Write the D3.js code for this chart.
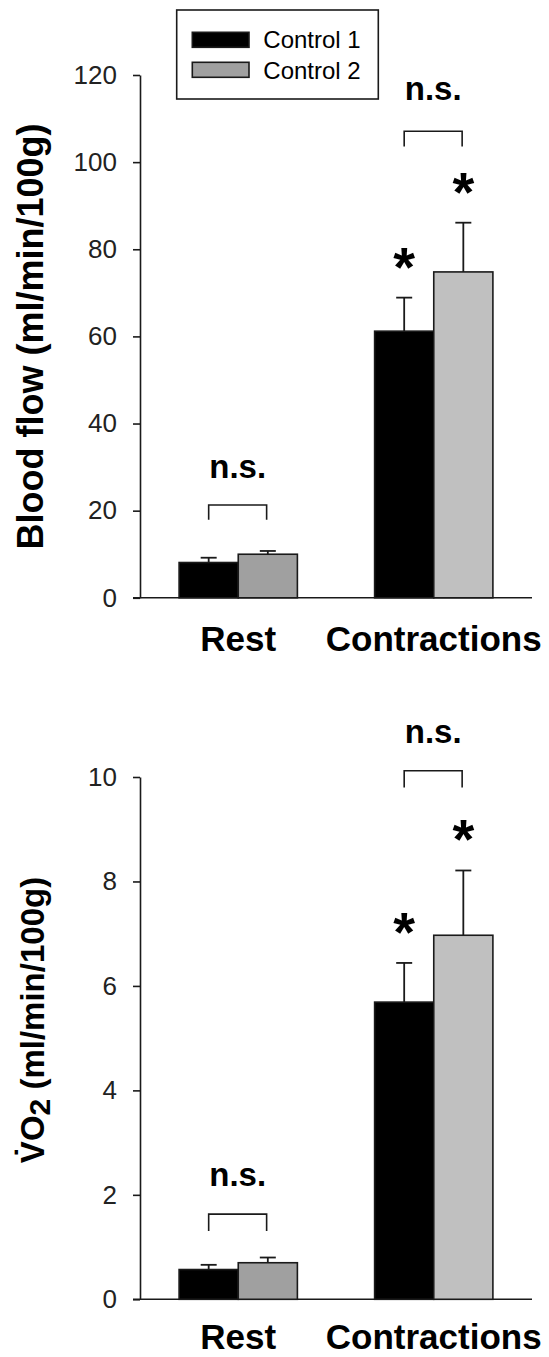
<!DOCTYPE html>
<html>
<head>
<meta charset="utf-8">
<script src="https://cdn.jsdelivr.net/npm/d3@7"></script>
<style>
  html, body { margin: 0; padding: 0; background: #fff; }
  svg { display: block; font-family: "Liberation Sans", Arial, sans-serif; }
</style>
</head>
<body>
<svg id="fig" width="549" height="1357"></svg>
<script>
// Groups and series
const categories = ["Rest", "Contractions"];
const series = ["Control 1", "Control 2"];

// Blood flow (ml/min/100g): means and SE
const flowControl1 = [8.1, 61.2];
const flowControl1SE = [1.1, 7.7];
const flowControl2 = [10.0, 74.8];
const flowControl2SE = [0.75, 11.3];
const flowTicks = [0, 20, 40, 60, 80, 100, 120];

// VO2 (ml/min/100g): means and SE
const vo2Control1 = [0.57, 5.69];
const vo2Control1SE = [0.09, 0.75];
const vo2Control2 = [0.70, 6.97];
const vo2Control2SE = [0.10, 1.24];
const vo2Ticks = [0, 2, 4, 6, 8, 10];

// Significance vs rest (per series, per group)
const starsControl1 = [false, true];
const starsControl2 = [false, true];
const compareLabel = "n.s.";

// Bracket heights (data units) for the between-control comparison
const flowBrackets = [
  { top: 21.3, leg: 17.9, text: 27.6 },
  { top: 107.1, leg: 103.6, text: 114.3 }
];
const vo2Brackets = [
  { top: 1.63, leg: 1.31, text: 2.17 },
  { top: 10.12, leg: 9.80, text: 10.66 }
];

const svg = d3.select("#fig");
const ink = "#1a1a1a";
const axisX0 = 140, axisX1 = 532;

const x = d3.scaleBand().domain(categories).range([axisX0, axisX1])
  .paddingInner(0.395).paddingOuter(0.2);
const xs = d3.scaleBand().domain(series).range([0, x.bandwidth()]);

function fillFor(s, c) {
  if (s === series[0]) return "#000";
  return c === "Rest" ? "#a0a0a0" : "#c0c0c0";
}

function panel(cfg) {
  const y = d3.scaleLinear().domain([0, cfg.max]).range([cfg.y0, cfg.y1]);
  const g = svg.append("g");

  // Y axis
  const ax = g.append("g").attr("transform", `translate(${axisX0},0)`)
    .call(d3.axisLeft(y).tickValues(cfg.ticks).tickSize(7).tickSizeOuter(0).tickPadding(16));
  ax.select(".domain").attr("stroke", ink).attr("stroke-width", 1.6);
  ax.selectAll(".tick line").attr("stroke", ink).attr("stroke-width", 1.6);
  ax.selectAll(".tick text").attr("fill", "#222").style("font-size", "26px")
    .style("font-family", "Liberation Sans, Arial, sans-serif");

  // X baseline
  g.append("line").attr("x1", axisX0 - 7).attr("x2", axisX1)
    .attr("y1", y(0)).attr("y2", y(0)).attr("stroke", ink).attr("stroke-width", 1.6);

  const rows = [];
  categories.forEach((c, i) => {
    series.forEach((s, j) => {
      rows.push({ c, s, v: cfg.means[j][i], e: cfg.errs[j][i], star: cfg.stars[j][i] });
    });
  });

  const cx = d => x(d.c) + xs(d.s) + xs.bandwidth() / 2;

  // Error bars (upper only)
  g.selectAll(".eb").data(rows).join("line")
    .attr("x1", cx).attr("x2", cx)
    .attr("y1", d => y(d.v)).attr("y2", d => y(d.v + d.e))
    .attr("stroke", ink).attr("stroke-width", 1.8);
  g.selectAll(".cap").data(rows).join("line")
    .attr("x1", d => cx(d) - 8).attr("x2", d => cx(d) + 8)
    .attr("y1", d => y(d.v + d.e)).attr("y2", d => y(d.v + d.e))
    .attr("stroke", ink).attr("stroke-width", 1.8);

  // Bars
  g.selectAll(".bar").data(rows).join("rect")
    .attr("x", d => x(d.c) + xs(d.s))
    .attr("width", xs.bandwidth())
    .attr("y", d => y(d.v))
    .attr("height", d => y(0) - y(d.v))
    .attr("fill", d => fillFor(d.s, d.c))
    .attr("stroke", ink).attr("stroke-width", 1.6);

  // Significance stars
  g.selectAll(".star").data(rows.filter(d => d.star)).join("text")
    .attr("x", cx)
    .attr("y", d => y(d.v + d.e) - 43 + 31)
    .attr("text-anchor", "middle")
    .style("font-size", "56px").style("font-weight", "bold")
    .text("*");

  // n.s. brackets between controls
  categories.forEach((c, i) => {
    const b = cfg.brackets[i];
    const bx0 = x(c) + 0.25 * x.bandwidth();
    const bx1 = x(c) + 0.74 * x.bandwidth();
    g.append("path")
      .attr("d", `M${bx0},${y(b.leg)}V${y(b.top)}H${bx1}V${y(b.leg)}`)
      .attr("fill", "none").attr("stroke", ink).attr("stroke-width", 1.6);
    g.append("text").attr("x", (bx0 + bx1) / 2).attr("y", y(b.text))
      .attr("text-anchor", "middle")
      .style("font-size", "33px").style("font-weight", "bold")
      .text(compareLabel);
  });

  // Category labels
  g.selectAll(".cat").data(categories).join("text")
    .attr("x", c => x(c) + x.bandwidth() / 2)
    .attr("y", y(0) + cfg.labelGap)
    .attr("text-anchor", "middle")
    .style("font-size", "35px").style("font-weight", "bold")
    .text(c => c);

  return y;
}

// Blood flow panel
const yFlow = panel({
  max: 120, y0: 597.8, y1: 75, ticks: flowTicks, labelGap: 53,
  means: [flowControl1, flowControl2], errs: [flowControl1SE, flowControl2SE],
  stars: [starsControl1, starsControl2], brackets: flowBrackets
});
svg.append("text")
  .attr("transform", "translate(43,336.5) rotate(-90)")
  .attr("text-anchor", "middle")
  .style("font-size", "36px").style("font-weight", "bold")
  .text("Blood flow (ml/min/100g)");

// VO2 panel
const yVo2 = panel({
  max: 10, y0: 1299.3, y1: 777, ticks: vo2Ticks, labelGap: 49.5,
  means: [vo2Control1, vo2Control2], errs: [vo2Control1SE, vo2Control2SE],
  stars: [starsControl1, starsControl2], brackets: vo2Brackets
});
const vt = svg.append("text")
  .attr("transform", "translate(44,1020) rotate(-90)")
  .attr("text-anchor", "middle")
  .style("font-size", "33px").style("font-weight", "bold");
vt.append("tspan").text("V\u0307O");
vt.append("tspan").attr("dy", 6).style("font-size", "30px").text("2");
vt.append("tspan").attr("dy", -6).text(" (ml/min/100g)");

// Legend
const lg = svg.append("g");
lg.append("rect").attr("x", 176.7).attr("y", 10).attr("width", 201.6).attr("height", 89)
  .attr("fill", "#fff").attr("stroke", ink).attr("stroke-width", 1.6);
series.forEach((s, i) => {
  lg.append("rect").attr("x", 192.3).attr("y", 32.3 + i * 30).attr("width", 56.7).attr("height", 15)
    .attr("fill", fillFor(s, "Rest")).attr("stroke", ink).attr("stroke-width", 1.6);
  lg.append("text").attr("x", 263.3).attr("y", 47.5 + i * 31.5)
    .style("font-size", "24px").text(s);
});
</script>
</body>
</html>
